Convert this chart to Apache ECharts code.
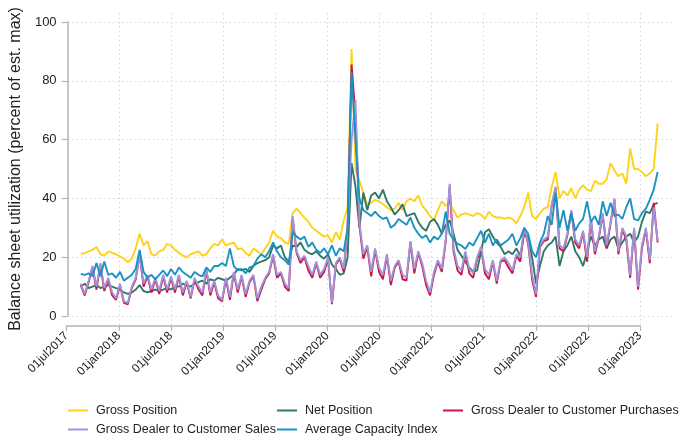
<!DOCTYPE html>
<html>
<head>
<meta charset="utf-8">
<script src="https://cdn.jsdelivr.net/npm/echarts@6/dist/echarts.min.js"></script>
<style>
html,body{margin:0;padding:0;background:#fff;}
#chart{width:682px;height:436px;}
</style>
</head>
<body>
<div id="chart"></div>
<script>
// ---- data (biweekly observations starting 14 Jul 2017) ----
const firstObs = '2017-07-14';
const obsStepDays = 14;

const seriesNames = ['Gross Position','Net Position','Gross Dealer to Customer Purchases','Gross Dealer to Customer Sales','Average Capacity Index'];

const grossPosition = [21.1,21.4,22,22.5,23.5,21,20.5,22,21.5,21,20.3,19.5,18.3,19.5,23,28,24,25.5,21,20.5,22,22.5,24.5,24,22.5,21.5,20.5,20,21,21.5,22,20.5,21,23,24.5,24,
26,24,24.5,25,22.7,23,21.5,20.5,23,22,21,23,25,29,27,26.5,25,24.5,35,36.5,35,33.5,32,30,29,28,27,27.5,25,28.5,26,32.5,37,
90.8,
50,46,42,38,38.5,39.5,39,38,37,36,36.5,38.5,36,39,40,39,41,37.5,36,34,32.5,36,39,37.5,38.5,36,33.5,34.5,35,34.5,34,35,34.5,33,35.5,34,33.5,33.5,
33,33.5,33,31.5,34,37,42,34,33,35,36.5,37,44,49,40,42.5,41,43.5,40,43,44.5,43,42.5,46,45,45,46.5,52,49.5,47.5,48.5,45,57,50,50,49,47.5,48.5,50,65.5];

const netPosition = [10,11,9.5,10,10.5,9.5,10,10.5,10,9.5,9,8,7.5,8,9,10.5,8.5,8,8.5,9,8.5,9,9.5,9,10,10,11,10.5,10,11,11.5,12,11,12.5,12,13,
12.5,12,13,14,16,15.5,16,15,17,18,18.5,19,20,24,23,24,20,18.5,24,23.5,25,22.5,21.5,21,22,20.5,19.5,21,17.5,16,14,14.5,20,
52,
44,30,42,36,41,42,40,43,39,37,34.5,36,38,34,34.5,35,32,30,29,32,33,31,28,31,32.5,28,22.5,20.5,18.5,16.5,15,15.5,22,28.5,29.5,27,25,23.5,
21,22,21,23,20.5,28,27,20,11,17,22,24,25,27,17,22,24,27,22,20,17,22,27,24,26,27,23,26,27,23,25,27,28,25,27,32,35.5,35,38,38.5];

const dealerPurchases = [10.5,7,11.5,16.5,9,17.5,8.5,12.5,7,5.5,10.5,4.5,4,9.5,12.5,21,10,13.5,8,12.5,7.5,13.5,8,13,8,13.5,7,11.5,6,12.5,9,7,15.5,7,11.5,6,
5,12.5,5.5,14.5,8,13.5,6.5,11.5,13.5,5,9,12.5,14.5,20.5,13,14.5,10,8.5,33,21.5,18,20,15.5,13,18,13,15,19.5,4,17.5,19.5,15,30,
85.5,
68,31,19.5,23.5,13.5,22.5,15,12.5,20.5,10.5,16.5,18.5,12.5,12,25,14.5,21.5,17,10.5,7,14,18.5,15,25.5,44,22,15.5,14,21.5,14.5,13,19.5,23,14.5,12.5,18.5,11,18.5,
19,16.5,14.5,20.5,18.5,29.5,24.5,12.5,6.5,23.5,25.5,26,37.5,43.5,23,22,27.5,35.5,25,23,28.5,18.5,32.5,21,26.5,34.5,23,31.5,39.5,21,29.5,26,13,29.5,9,23,29.5,18,38.5,25];

const dealerSales = [11,7.5,12,17,10,18,9.5,13,8,6,11,5,4.5,10,13,21,11,14,9,13,8.5,14,9,13.5,9,14,8,12,6.5,13,10,8,16,8,12,7,
5.5,13,6.5,15,9,14,7.5,12,14,6,10,13,15,21,14,15,11,9.5,34,22,19,20.5,17,14,18.5,14,16,20,4.5,18,20,16,30,
60,
73.5,32,21,24,15,23,16.5,14,21,12,17,19,14,13,25.5,16,22,18,12,8,15,19,16,26,45,23,17,15.5,22,16,14.5,20,23.5,16,14,19,12,19,
20,18,15.5,21,20,30,25,14,7.5,24,26,27,38,44,24,23,28,36,26,24,29,20,33,22,27,35,24,32,40,22,30,27,14,30,10,24,30,19,37,25.5];

const avgCapacity = [14.3,14,14.5,13.5,18,13.5,18.5,14,14.5,13,15,12,13,14,16,22.5,15,13,14,12.5,14,15.5,13.5,16,14,16.5,15,14,13,15,14,13.5,16.5,15,17,17,
18,17,23,17,15.5,16,14.5,16.5,17,19.5,21,20,22,25,22,20,19,17.5,28.5,27,26,27,23.5,25,22.5,21.5,23,21,24,20.5,23,22,30,
83,
60,40,36,35,34,35.5,34,33,33.5,30,31,33,32,31,33.5,30,28,26.5,27.5,25,27,26,28,35.5,28,26,24.5,24,22.8,25,24,26.5,29,25,28,24,26,24,
25,26,28,24,26.5,30,28,22,20,25,28,34,31,42,30,36,29,35,29,31.5,33,39,32,34,31,39,34,38.5,34,34.5,33,37,40,33,32.5,35,36.5,39.5,43,49];

const xTickLabels = ['01jul2017','01jan2018','01jul2018','01jan2019','01jul2019','01jan2020','01jul2020','01jan2021','01jul2021','01jan2022','01jul2022','01jan2023'];
const yTickValues = [0,20,40,60,80,100];

const seriesColors = ['#FFD21A','#2F7868','#CC1447','#A293D8','#1A93C4'];

// ---- build ----
const DAY = 86400000;
const t0 = Date.parse(firstObs + 'T00:00:00Z');
function toPairs(arr){ return arr.map((v,i)=>[t0 + i*obsStepDays*DAY, v]); }

// layout: Jul 2017 tick at x=66.7, Jan 2023 tick at x=640
const tickStart = Date.UTC(2017,6,1), tickEnd = Date.UTC(2023,0,1);
const pxPerMs = (640-66.7)/(tickEnd-tickStart);
const plotMin = tickStart - (66.7-57)/pxPerMs;
const plotMax = tickEnd + (672-640)/pxPerMs;

const FONT = '"Liberation Sans", Arial, Helvetica, sans-serif';
const allData = [grossPosition, netPosition, dealerPurchases, dealerSales, avgCapacity];

const legendPos = [
  {left:68, top:404},
  {left:277, top:404},
  {left:443, top:404},
  {left:68, top:423},
  {left:277, top:423}
];

const option = {
  animation:false,
  backgroundColor:'#fff',
  textStyle:{fontFamily:FONT},
  grid:[
    {left:57, right:10, top:22, bottom:120, containLabel:false},
    {left:66.7, right:42, top:13, bottom:110, containLabel:false}
  ],
  xAxis:[
    {type:'time', gridIndex:0, min:plotMin, max:plotMax, show:false},
    {type:'value', gridIndex:1, min:0, max:xTickLabels.length-1, interval:1,
      axisLine:{show:true, lineStyle:{color:'#b4b4b4', width:1.5}},
      axisTick:{show:true, length:5, lineStyle:{color:'#b4b4b4', width:1.2}},
      axisLabel:{rotate:45, margin:8, fontSize:12, color:'#222', fontFamily:FONT,
        formatter:(v)=>xTickLabels[Math.round(v)] || ''},
      splitLine:{show:true, showMinLine:false, lineStyle:{color:'#d6d6d6', type:[1.5,3], width:1}}
    }
  ],
  yAxis:[
    {type:'value', gridIndex:0, min:yTickValues[0], max:yTickValues[yTickValues.length-1], interval:20,
      name:'Balance sheet utilization (percent of est. max)',
      nameLocation:'middle', nameGap:33,
      nameTextStyle:{fontSize:16, color:'#222', fontFamily:FONT},
      axisLine:{show:true, lineStyle:{color:'#b4b4b4', width:1.5}},
      axisTick:{show:true, length:6, lineStyle:{color:'#b4b4b4', width:1.2}},
      axisLabel:{fontSize:13, color:'#222', margin:11, fontFamily:FONT},
      splitLine:{show:true, lineStyle:{color:'#d6d6d6', type:[1.5,3], width:1}}
    },
    {type:'value', gridIndex:1, min:0, max:1, show:false, splitLine:{show:false}}
  ],
  legend: seriesNames.map((n,i)=>({
    data:[n], left:legendPos[i].left, top:legendPos[i].top, padding:0,
    itemWidth:20, itemHeight:2, icon:'rect', itemGap:8,
    textStyle:{fontSize:12.5, color:'#222', fontFamily:FONT, padding:[0,0,0,3]}
  })),
  series: seriesNames.map((n,i)=>({
    name:n, type:'line', xAxisIndex:0, yAxisIndex:0,
    data: toPairs(allData[i]),
    showSymbol:false, symbol:'none',
    color: seriesColors[i],
    lineStyle:{width:1.9, color:seriesColors[i]},
    z: 2+i
  }))
};

const chart = echarts.init(document.getElementById('chart'), null, {renderer:'canvas'});
chart.setOption(option);
</script>
</body>
</html>
